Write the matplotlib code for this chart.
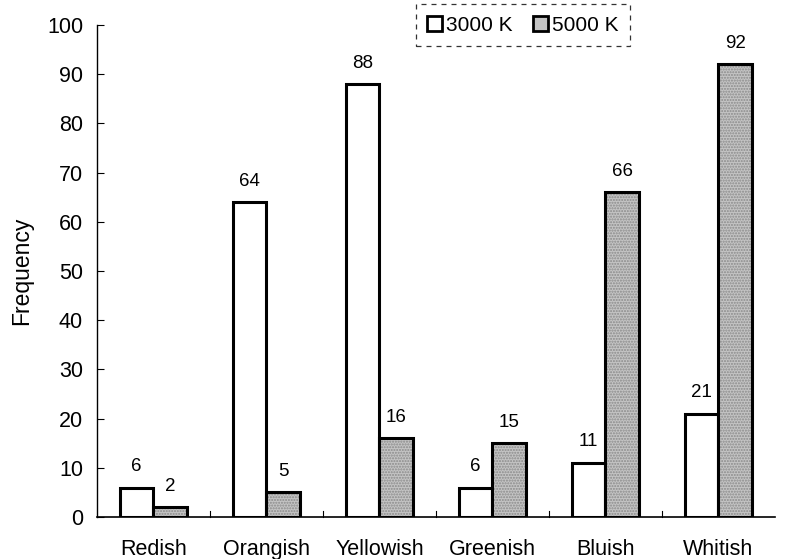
import matplotlib.pyplot as plt
import numpy as np
from matplotlib.patches import Patch

plt.rcParams['font.family'] = ['Liberation Sans', 'DejaVu Sans']

categories = ["Redish", "Orangish", "Yellowish", "Greenish", "Bluish", "Whitish"]
k3000 = [6, 64, 88, 6, 11, 21]
k5000 = [2, 5, 16, 15, 66, 92]

fig = plt.figure(figsize=(7.93, 5.59), dpi=100)
ax = fig.add_axes([0.1223, 0.0751, 0.855, 0.880])

x = np.arange(len(categories))
w = 0.3
grey = "#c4c4c4"
ax.bar(x - w / 2, k3000, w, color="white", edgecolor="black", linewidth=2.2)
# stippled grey fill, then black outline on top
ax.bar(x + w / 2, k5000, w, color=grey, edgecolor="#8a8a8a", linewidth=0, hatch="......")
b2 = ax.bar(x + w / 2, k5000, w, color="none", edgecolor="black", linewidth=2.2)
b1 = ax.patches[:len(categories)]

for bars, vals in ((b1, k3000), (b2, k5000)):
    for r, v in zip(bars, vals):
        ax.annotate(str(v), (r.get_x() + r.get_width() / 2, v), xytext=(0, 9),
                    textcoords="offset points", ha="center", va="bottom", fontsize=13.5)

ax.set_xlim(-0.5, len(categories) - 0.5)
ax.set_ylim(0, 100)
ax.set_yticks(range(0, 101, 10))
ax.set_xticks(x)
ax.set_xticklabels(categories, fontsize=15.5)
ax.tick_params(axis="y", direction="in", labelsize=15.5, length=5, pad=10)
ax.tick_params(axis="x", length=0, pad=16)
# small separators between groups
for xs in x[1:] - 0.5:
    ax.plot([xs, xs], [0, 1.2], color="black", lw=0.8, clip_on=False)
ax.set_ylabel("Frequency", fontsize=16.5)
ax.yaxis.set_label_coords(-0.094, 0.5)
for s in ("top", "right"):
    ax.spines[s].set_visible(False)
ax.spines["left"].set_linewidth(1.0)
ax.spines["bottom"].set_linewidth(1.2)

handles = [Patch(facecolor="white", edgecolor="black", linewidth=2, label="3000 K"),
           Patch(facecolor=grey, edgecolor="black", linewidth=2, label="5000 K")]
leg = ax.legend(handles=handles, loc="center", bbox_to_anchor=(0.628, 1.0), ncol=2, fontsize=15,
                frameon=True, fancybox=False, handlelength=0.7, handleheight=0.7, handletextpad=0.2,
                columnspacing=1.0, borderpad=0.55)
leg.get_frame().set_edgecolor("black")
leg.get_frame().set_linestyle((0, (4, 4)))
leg.get_frame().set_linewidth(0.9)

fig.savefig("out.png", dpi=100)
